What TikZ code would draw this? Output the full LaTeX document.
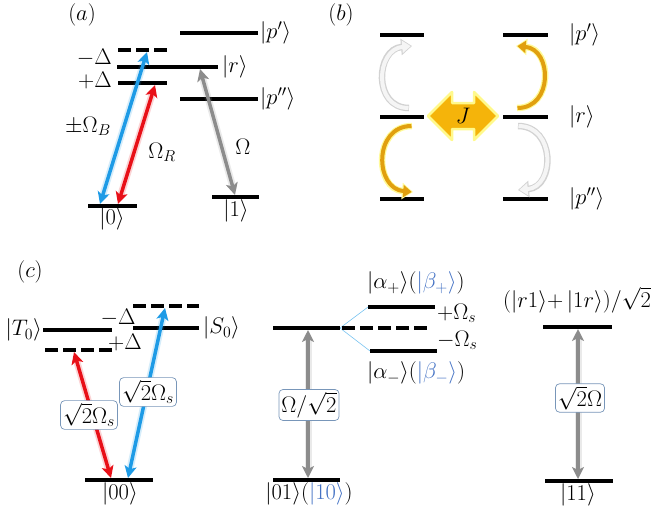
\RequirePackage{fix-cm}
\documentclass[tikz,border=0pt]{standalone}
\usepackage{amsmath}
\usetikzlibrary{arrows.meta}
\definecolor{lblue}{RGB}{30,155,230}
\definecolor{lred}{RGB}{232,16,24}
\definecolor{lgray}{RGB}{140,140,140}
\definecolor{gold}{RGB}{245,180,10}
\definecolor{golddk}{RGB}{225,160,15}
\definecolor{kb}{RGB}{68,114,196}
\definecolor{boxc}{RGB}{120,150,185}
\begin{document}
\begin{tikzpicture}[x=1pt,y=-1pt,
  font=\fontsize{22.5}{27}\selectfont,
  every node/.style={inner sep=1pt},
  tight/.style={inner sep=0pt},
  lvl/.style={line width=3.5pt,black},
  dlvl/.style={lvl,dash pattern=on 13pt off 5pt},
  darr/.style={line width=3.5pt,{Stealth[length=12pt,width=12pt,inset=3pt]}-{Stealth[length=12pt,width=12pt,inset=3pt]}},
  glow/.style={line width=7pt,opacity=0.18,shorten >=10pt,shorten <=10pt},
  lbox/.style={draw=boxc,rounded corners=4pt,fill=white,inner sep=2.5pt,line width=0.7pt},
  ribbonout/.style={line width=6.5pt,-{Triangle[width=16pt,length=11pt]}},
  ribbonin/.style={line width=4pt,-{Triangle[width=12pt,length=8.5pt]},shorten >=1.3pt,shorten <=0.5pt}
]
\useasboundingbox (0,0) rectangle (658,515);

%%%%%%%%%%%%%%%% panel (a)
\node (la) at (82,15) {$(a)$};
\coordinate (a1L) at (180,33);  \coordinate (a1R) at (258,33);
\coordinate (a2L) at (118,50);  \coordinate (a2R) at (167,50);
\coordinate (a3L) at (117,67);  \coordinate (a3R) at (218,67);
\coordinate (a4L) at (118,83);  \coordinate (a4R) at (167,83);
\coordinate (a5L) at (180,99);  \coordinate (a5R) at (258,99);
\coordinate (a6L) at (88,206);  \coordinate (a6R) at (137,206);
\coordinate (a7L) at (212,197); \coordinate (a7R) at (259,197);
\draw[lvl] (a1L) -- (a1R);
\draw[dlvl] (a2L) -- (a2R);
\draw[lvl] (a3L) -- (a3R);
\draw[lvl] (a4L) -- (a4R);
\draw[lvl] (a5L) -- (a5R);
\draw[lvl] (a6L) -- (a6R);
\draw[lvl] (a7L) -- (a7R);
\node[anchor=west] (kpp) at (259,33) {$|p'\rangle$};
\node[anchor=west] (kr) at (221,67) {$|r\rangle$};
\node[anchor=west] (kppp) at (259,99) {$|p''\rangle$};
\node[tight,anchor=east] (mD) at (112,57.5) {$-\Delta$};
\node[tight,anchor=east] (pD) at (112,80.5) {$+\Delta$};
\node[anchor=north] (k0) at (112,206) {$|0\rangle$};
\node[anchor=north] (k1) at (236,198) {$|1\rangle$};
\coordinate (bB) at (100,204); \coordinate (bT) at (147,52);
\coordinate (rB) at (118,204); \coordinate (rT) at (155,85);
\coordinate (gT) at (200,69);  \coordinate (gB) at (235,195);
\draw[glow,lblue] (bB) -- (bT);
\draw[glow,lred] (rB) -- (rT);
\draw[glow,lgray] (gT) -- (gB);
\draw[darr,lblue] (bB) -- (bT);
\draw[darr,lred] (rB) -- (rT);
\draw[darr,lgray] (gT) -- (gB);
\node (OB) at (88,126) {$\pm\Omega_B$};
\node (OR) at (162,152) {$\Omega_R$};
\node (Om) at (243,147) {$\Omega$};

%%%%%%%%%%%%%%%% panel (b)
\node (lb) at (341,15) {$(b)$};
\foreach \n/\y in {1/35,2/117,3/199}{
  \coordinate (bl\n L) at (380,\y); \coordinate (bl\n R) at (424,\y);
  \coordinate (br\n L) at (503,\y); \coordinate (br\n R) at (548,\y);
  \draw[lvl] (bl\n L) -- (bl\n R);
  \draw[lvl] (br\n L) -- (br\n R);
}
\node[anchor=west] (bkp) at (568,35) {$|p'\rangle$};
\node[anchor=west] (bkr) at (568,117) {$|r\rangle$};
\node[anchor=west] (bkpp) at (568,199) {$|p''\rangle$};
% curved ribbons
\coordinate (c1s) at (409,108); \coordinate (c1e) at (412,46);
\coordinate (c2s) at (412,126); \coordinate (c2e) at (413,192);
\coordinate (c3s) at (517,108); \coordinate (c3e) at (516,46);
\coordinate (c4s) at (518,126); \coordinate (c4e) at (518,190);
\draw[ribbonout,gray!35] (c1s) to[out=180,in=185,looseness=1.5] (c1e);
\draw[ribbonin,gray!8] (c1s) to[out=180,in=185,looseness=1.5] (c1e);
\draw[ribbonout,gray!35] (c4s) to[out=0,in=5,looseness=1.5] (c4e);
\draw[ribbonin,gray!8] (c4s) to[out=0,in=5,looseness=1.5] (c4e);
\draw[ribbonout,yellow!40] (c2s) to[out=180,in=175,looseness=1.5] (c2e);
\draw[ribbonin,golddk] (c2s) to[out=180,in=175,looseness=1.5] (c2e);
\draw[ribbonout,yellow!40] (c3s) to[out=0,in=-5,looseness=1.5] (c3e);
\draw[ribbonin,golddk] (c3s) to[out=0,in=-5,looseness=1.5] (c3e);
% J arrow
\draw[yellow!45,line width=2.5pt,fill=gold,line join=round]
  (428,116) -- (452,92) -- (452,103) -- (474,103) -- (474,92) -- (498,116)
  -- (474,140) -- (474,129) -- (452,129) -- (452,140) -- cycle;
\node (J) at (463,116) {$J$};

%%%%%%%%%%%%%%%% panel (c)
\node (lc) at (30,272) {$(c)$};
\coordinate (T0L) at (43,330);  \coordinate (T0R) at (112,330);
\coordinate (TdL) at (45,350);  \coordinate (TdR) at (112,350);
\coordinate (S0L) at (133,328); \coordinate (S0R) at (199,328);
\coordinate (SdL) at (133,306); \coordinate (SdR) at (199,306);
\coordinate (00L) at (85,480);  \coordinate (00R) at (153,480);
\draw[lvl] (T0L) -- (T0R);
\draw[dlvl] (TdL) -- (TdR);
\draw[lvl] (S0L) -- (S0R);
\draw[dlvl] (SdL) -- (SdR);
\draw[lvl] (00L) -- (00R);
\node[anchor=east] (kT0) at (43,330) {$|T_0\rangle$};
\node[anchor=west] (kS0) at (202,328) {$|S_0\rangle$};
\node[tight] (cmD) at (118,318) {$-\Delta$};
\node[tight] (cpD) at (125,343) {$+\Delta$};
\node[anchor=north] (k00) at (120,481) {$|00\rangle$};
\coordinate (crT) at (74,352); \coordinate (crB) at (111,478);
\coordinate (cbB) at (128,478); \coordinate (cbT) at (165,308);
\draw[glow,lred] (crT) -- (crB);
\draw[glow,lblue] (cbB) -- (cbT);
\draw[darr,lred] (crT) -- (crB);
\draw[darr,lblue] (cbB) -- (cbT);
\node[lbox] (bx1) at (89,415) {$\sqrt{2}\Omega_s$};
\node[lbox] (bx2) at (148,392) {$\sqrt{2}\Omega_s$};

% middle
\coordinate (m1L) at (273,328); \coordinate (m1R) at (340,328);
\coordinate (muL) at (368,307); \coordinate (muR) at (435,307);
\coordinate (mdL) at (342,328); \coordinate (mdR) at (430,328);
\coordinate (mlL) at (370,351); \coordinate (mlR) at (437,351);
\coordinate (m0L) at (273,480); \coordinate (m0R) at (340,480);
\draw[lblue!60,line width=0.6pt] (m1R) -- (muL);
\draw[lblue!60,line width=0.6pt] (m1R) -- (mlL);
\draw[lvl] (m1L) -- (m1R);
\draw[lvl] (muL) -- (muR);
\draw[dlvl] (mdL) -- (mdR);
\draw[lvl] (mlL) -- (mlR);
\draw[lvl] (m0L) -- (m0R);
\node[anchor=west] (kap) at (366,283) {$|\alpha_+\rangle(\textcolor{kb}{|\beta_+\rangle})$};
\node[anchor=west] (kam) at (366,373) {$|\alpha_-\rangle(\textcolor{kb}{|\beta_-\rangle})$};
\node[tight,anchor=base west] (pO) at (437,319.5) {$+\Omega_s$};
\node[tight,anchor=base west] (mO) at (437,346.5) {$-\Omega_s$};
\node[anchor=north] (k01) at (309,481) {$|01\rangle(\textcolor{kb}{|10\rangle})$};
\coordinate (mgT) at (308,330); \coordinate (mgB) at (308,478);
\draw[glow,lgray] (mgT) -- (mgB);
\draw[darr,lgray] (mgT) -- (mgB);
\node[lbox] (bx3) at (309,405) {$\Omega/\sqrt{2}$};

% right
\coordinate (r1L) at (543,327); \coordinate (r1R) at (612,327);
\coordinate (r0L) at (545,481); \coordinate (r0R) at (613,481);
\draw[lvl] (r1L) -- (r1R);
\draw[lvl] (r0L) -- (r0R);
\node[anchor=west] (krr) at (502,300) {$(|r1\rangle{+}\,|1r\rangle)/\sqrt{2}$};
\node[anchor=north] (k11) at (578,482) {$|11\rangle$};
\coordinate (rgT) at (578,329); \coordinate (rgB) at (578,479);
\draw[glow,lgray] (rgT) -- (rgB);
\draw[darr,lgray] (rgT) -- (rgB);
\node[lbox] (bx4) at (580,398) {$\sqrt{2}\Omega$};
\end{tikzpicture}
\end{document}
